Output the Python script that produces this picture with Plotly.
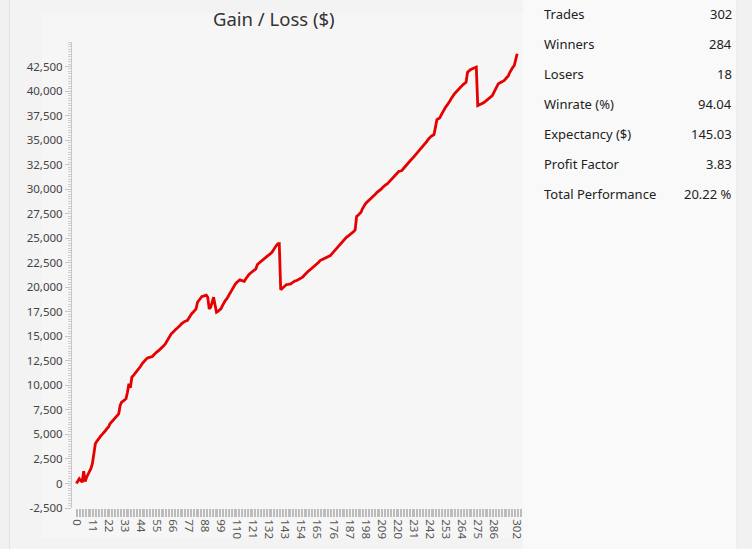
import plotly.graph_objects as go

# ---- data ----
trade_index = list(range(0, 303))
cum_gain = [
    0, 250, 480, 300, 130, 1250, 200, 640, 900, 1200,
    1530, 2040, 3360, 4050, 4300, 4550, 4700, 4900, 5060, 5300,
    5400, 5600, 5750, 6080, 6250, 6400, 6590, 6750, 6900, 7100,
    7950, 8280, 8400, 8500, 8630, 9300, 10160, 9750, 10830, 11000,
    11180, 11350, 11500, 11690, 11950, 12200, 12400, 12550, 12710, 12800,
    12850, 12900, 12940, 13100, 13280, 13400, 13500, 13620, 13730, 13900,
    14050, 14240, 14500, 14740, 15080, 15250, 15400, 15590, 15700, 15820,
    15930, 16100, 16270, 16440, 16500, 16560, 16610, 16850, 17120, 17300,
    17450, 17620, 17800, 18470, 18700, 18900, 19060, 19100, 19160, 19200,
    18980, 17800, 17960, 18500, 18990, 18200, 17460, 17550, 17680, 17800,
    18100, 18470, 18650, 18820, 19100, 19330, 19600, 19900, 20180, 20350,
    20510, 20650, 20760, 20700, 20650, 20610, 20850, 21090, 21250, 21400,
    21530, 21650, 21760, 21880, 22320, 22450, 22550, 22720, 22900, 23000,
    23100, 23200, 23300, 23420, 23570, 23800, 24080, 24250, 24430, 24450,
    19740, 19870, 20000, 20150, 20280, 20300, 20320, 20350, 20480, 20610,
    20650, 20690, 20780, 20860, 20940, 21020, 21200, 21370, 21530, 21650,
    21760, 21880, 22000, 22130, 22260, 22390, 22550, 22720, 22800, 22900,
    22980, 23060, 23120, 23180, 23230, 23400, 23570, 23740, 23900, 24080,
    24250, 24470, 24690, 24830, 24960, 25100, 25200, 25300, 25410, 25510,
    25680, 25850, 27210, 27350, 27500, 27650, 28000, 28330, 28500, 28670,
    28800, 28920, 29050, 29170, 29340, 29510, 29680, 29770, 29860, 30030,
    30200, 30380, 30460, 30540, 30700, 30880, 31050, 31220, 31390, 31530,
    31680, 31820, 31850, 31890, 32080, 32270, 32450, 32640, 32790, 32940,
    33090, 33260, 33430, 33600, 33780, 33970, 34150, 34340, 34480, 34620,
    34850, 35070, 35290, 35380, 35470, 35560, 36300, 37090, 37180, 37270,
    37570, 37880, 38180, 38370, 38560, 38750, 39010, 39280, 39540, 39710,
    39880, 40050, 40220, 40370, 40510, 40660, 40780, 40890, 41910, 42080,
    42170, 42260, 42340, 42420, 42450, 38520, 38580, 38630, 38690, 38800,
    38920, 39030, 39150, 39280, 39410, 39540, 39830, 40120, 40430, 40730,
    40820, 40900, 40980, 41060, 41230, 41400, 41570, 41910, 42260, 42430,
    42600, 43110, 43799,
]
x_tick_labels = [0, 11, 22, 33, 44, 55, 66, 77, 88, 99, 110, 121, 132, 143,
                 154, 165, 176, 187, 198, 209, 220, 231, 242, 253, 264, 275,
                 286, 302]
y_tick_values = [-2500, 0, 2500, 5000, 7500, 10000, 12500, 15000, 17500,
                 20000, 22500, 25000, 27500, 30000, 32500, 35000, 37500,
                 40000, 42500]
stat_names = ["Trades", "Winners", "Losers", "Winrate (%)", "Expectancy ($)",
              "Profit Factor", "Total Performance"]
stat_values = ["302", "284", "18", "94.04", "145.03", "3.83", "20.22 %"]

# ---- layout geometry (pixels) ----
W, H = 752, 549
L, R, T, B = 72, 523, 42, 508
FONT = "Noto Sans"


def px_x(p):
    return (p - L) / (R - L)


def px_y(p):
    return (B - p) / (B - T)


fig = go.Figure()
fig.add_trace(go.Scatter(
    x=trade_index, y=cum_gain, mode="lines",
    line=dict(color="#e60000", width=2.8), hoverinfo="skip", showlegend=False,
))

x_tickvals = list(range(0, 306))
x_ticktext = [str(v) if v in x_tick_labels else "" for v in x_tickvals]

shapes = [
    dict(type="rect", xref="paper", yref="paper", x0=px_x(0), x1=px_x(9.5),
         y0=px_y(H), y1=px_y(0), fillcolor="#f0f0f0", line=dict(width=0), layer="below"),
    dict(type="line", xref="paper", yref="paper", x0=px_x(9.5), x1=px_x(9.5),
         y0=px_y(H), y1=px_y(0), line=dict(color="#e2e2e2", width=1), layer="below"),
    dict(type="rect", xref="paper", yref="paper", x0=px_x(42), x1=px_x(523),
         y0=px_y(538), y1=px_y(13), fillcolor="#f6f6f6", line=dict(width=0), layer="below"),
    dict(type="rect", xref="paper", yref="paper", x0=px_x(523), x1=px_x(737),
         y0=px_y(H), y1=px_y(0), fillcolor="#f9f9f9", line=dict(width=0), layer="below"),
    dict(type="line", xref="paper", yref="paper", x0=px_x(737), x1=px_x(737),
         y0=px_y(H), y1=px_y(0), line=dict(color="#e6e6e6", width=1), layer="below"),
    dict(type="rect", xref="paper", yref="paper", x0=px_x(738), x1=px_x(W),
         y0=px_y(H), y1=px_y(0), fillcolor="#f1f1f1", line=dict(width=0), layer="below"),
]

annotations = [
    dict(text="Gain / Loss ($)", xref="paper", yref="paper", x=px_x(274), y=px_y(18),
         xanchor="center", yanchor="middle", showarrow=False,
         font=dict(family=FONT, size=18.5, color="#333333")),
]
for k, (name, val) in enumerate(zip(stat_names, stat_values)):
    yy = px_y(14 + 30 * k)
    annotations.append(dict(text=name, xref="paper", yref="paper", x=px_x(542), y=yy,
                            xanchor="left", yanchor="middle", showarrow=False,
                            font=dict(family=FONT, size=13, color="#222222")))
    annotations.append(dict(text=val, xref="paper", yref="paper", x=px_x(734), y=yy,
                            xanchor="right", yanchor="middle", showarrow=False,
                            font=dict(family=FONT, size=13, color="#222222")))

fig.update_layout(
    width=W, height=H,
    margin=dict(l=L, r=W - R, t=T, b=H - B, pad=0),
    paper_bgcolor="#f3f3f3", plot_bgcolor="#f6f6f6",
    font=dict(family=FONT, size=11.5, color="#444444"),
    shapes=shapes, annotations=annotations, showlegend=False,
    xaxis=dict(
        range=[-3, 306], showgrid=False, zeroline=False, showline=False,
        tickmode="array", tickvals=x_tickvals, ticktext=x_ticktext,
        tickangle=90, ticks="outside", ticklen=8, tickwidth=1, tickcolor="#bcbcbc",
        tickfont=dict(family=FONT, size=11.5, color="#555555"), automargin=False,
    ),
    yaxis=dict(
        range=[-2500, 45000], showgrid=False, zeroline=False,
        showline=True, linecolor="#c8c8c8", linewidth=1,
        tickmode="array", tickvals=y_tick_values,
        ticktext=[f"{v:,}" for v in y_tick_values],
        ticks="outside", ticklen=6, tickwidth=1, tickcolor="#c8c8c8",
        minor=dict(dtick=250, tick0=0, ticks="outside", ticklen=3, tickcolor="#d0d0d0",
                   showgrid=False),
        tickfont=dict(family=FONT, size=11.5, color="#444444"), automargin=False,
    ),
)

fig.write_html(
    "out.html",
    config={"displayModeBar": False, "staticPlot": True},
    post_script="document.body.style.margin='0';document.body.style.overflow='hidden';",
)
